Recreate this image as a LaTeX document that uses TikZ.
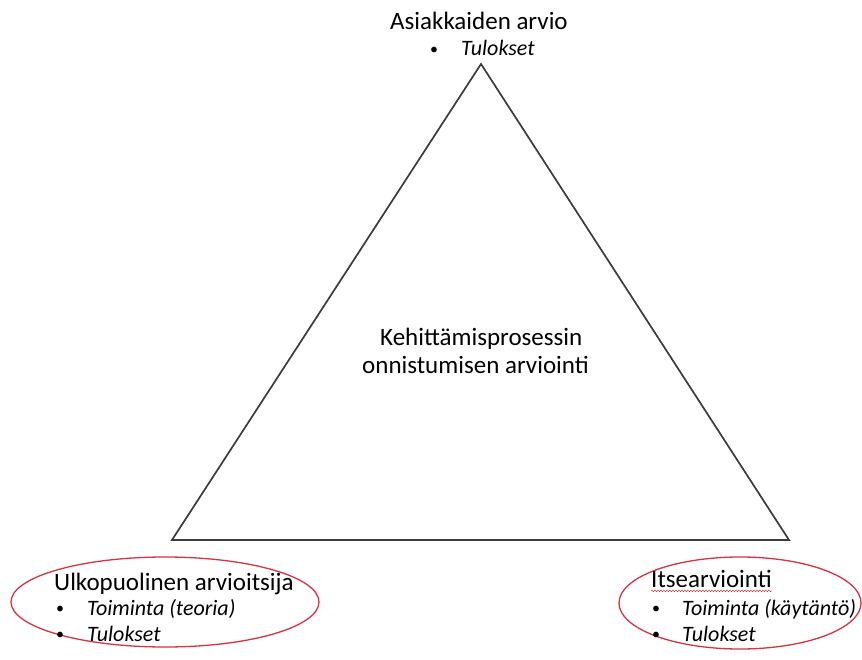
\documentclass[tikz,border=0pt]{standalone}
\usepackage{fontspec}
\setmainfont{Carlito}
\usetikzlibrary{decorations.pathmorphing}
\definecolor{ovalred}{RGB}{214,52,66}
\definecolor{edgegray}{RGB}{60,60,60}
\tikzset{
  head/.style={inner sep=0pt, anchor=base west, font=\fontsize{25}{30}\selectfont},
  item/.style={inner sep=0pt, anchor=base west, font=\fontsize{22}{26}\selectfont\itshape},
  dot/.style={inner sep=0pt, anchor=base west, font=\fontsize{16}{20}\selectfont, yshift=1.5pt},
  oval/.style={draw=ovalred, line width=1.3pt},
  tri/.style={draw=edgegray, line width=1.7pt, line join=miter},
}
\begin{document}
\begin{tikzpicture}[x=1pt,y=-1pt]
\useasboundingbox (0,0) rectangle (862,660);

% triangle corners
\coordinate (top) at (481,64);
\coordinate (bl) at (172,540);
\coordinate (br) at (789,540);
\draw[tri] (top) -- (bl) -- (br) -- cycle;

% top vertex label
\node[head] (topHead) at (390,30) {Asiakkaiden arvio};
\node[dot] (topDot) at (430,56) {•};
\node[item] (topItem) at (461,56) {Tulokset};

% centre label
\node[head] (mid1) at (380,345) {Kehittämisprosessin};
\node[head] (mid2) at (362,373) {onnistumisen arviointi};

% left vertex ellipse
\draw[oval] (165,602) ellipse [x radius=154, y radius=45];
\node[head] (leftHead) at (54,590) {Ulkopuolinen arvioitsija};
\node[dot] (leftDot1) at (56,615) {•};
\node[item] (leftItem1) at (87,615) {Toiminta (teoria)};
\node[dot] (leftDot2) at (56,641) {•};
\node[item] (leftItem2) at (87,641) {Tulokset};

% right vertex ellipse
\draw[oval] (740,603) ellipse [x radius=121, y radius=46];
\node[head] (rightHead) at (651,587) {Itsearviointi};
\draw[ovalred, line width=0.5pt, decorate, decoration={snake, amplitude=0.9pt, segment length=3pt}]
  ([yshift=-3.5pt]rightHead.south west) -- ([yshift=-3.5pt]rightHead.south east);
\node[dot] (rightDot1) at (652,615) {•};
\node[item] (rightItem1) at (682,615) {Toiminta (käytäntö)};
\node[dot] (rightDot2) at (652,641) {•};
\node[item] (rightItem2) at (682,641) {Tulokset};
\end{tikzpicture}
\end{document}
